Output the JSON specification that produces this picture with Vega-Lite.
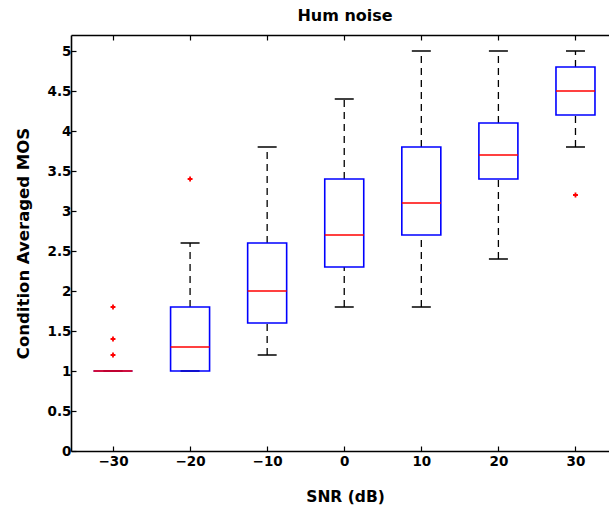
{
  "$schema": "https://vega.github.io/schema/vega-lite/v6.json",
  "width": 538,
  "height": 416,
  "autosize": {"type": "none"},
  "padding": {"left": 71, "top": 35, "right": 0, "bottom": 65},
  "background": "white",
  "config": {
    "view": {"stroke": null},
    "font": "DejaVu Sans",
    "axis": {
      "domainColor": "black",
      "domainWidth": 1.6,
      "tickColor": "black",
      "tickWidth": 1.2,
      "tickSize": -5,
      "grid": false,
      "labelFont": "DejaVu Sans",
      "labelFontSize": 13.5,
      "labelFontWeight": "bold",
      "labelColor": "black",
      "titleFont": "DejaVu Sans",
      "titleFontSize": 15.5,
      "titleFontWeight": "bold",
      "titleColor": "black"
    }
  },
  "title": {
    "text": "Hum noise",
    "font": "DejaVu Sans",
    "fontSize": 16,
    "fontWeight": "bold",
    "color": "black",
    "anchor": "middle",
    "frame": "group",
    "baseline": "alphabetic",
    "offset": -3,
    "dx": 5
  },
  "datasets": {
    "boxes": [
      {"snr": -30, "lo": 1.0, "q1": 1.0, "med": 1.0, "q3": 1.0, "hi": 1.0},
      {"snr": -20, "lo": 1.0, "q1": 1.0, "med": 1.3, "q3": 1.8, "hi": 2.6},
      {"snr": -10, "lo": 1.2, "q1": 1.6, "med": 2.0, "q3": 2.6, "hi": 3.8},
      {"snr": 0, "lo": 1.8, "q1": 2.3, "med": 2.7, "q3": 3.4, "hi": 4.4},
      {"snr": 10, "lo": 1.8, "q1": 2.7, "med": 3.1, "q3": 3.8, "hi": 5.0},
      {"snr": 20, "lo": 2.4, "q1": 3.4, "med": 3.7, "q3": 4.1, "hi": 5.0},
      {"snr": 30, "lo": 3.8, "q1": 4.2, "med": 4.5, "q3": 4.8, "hi": 5.0}
    ],
    "outliers": [
      {"snr": -30, "mos": 1.2},
      {"snr": -30, "mos": 1.4},
      {"snr": -30, "mos": 1.8},
      {"snr": -20, "mos": 3.4},
      {"snr": 30, "mos": 3.2}
    ]
  },
  "resolve": {"axis": {"x": "independent", "y": "independent"}},
  "layer": [
    {
      "data": {"name": "boxes"},
      "mark": {"type": "rule", "color": "black", "strokeWidth": 1.3, "strokeDash": [7, 5]},
      "encoding": {
        "x": {
          "field": "snr", "type": "quantitative",
          "scale": {"domain": [-34.8, 33.7], "nice": false, "zero": false},
          "axis": {
            "orient": "bottom",
            "values": [-30, -20, -10, 0, 10, 20, 30],
            "format": "d",
            "labelPadding": 8,
            "title": "SNR (dB)",
            "titleX": 274,
            "titleY": 38,
            "titleBaseline": "top"
          }
        },
        "y": {
          "field": "q3", "type": "quantitative",
          "scale": {"domain": [0, 5.2], "nice": false, "zero": false},
          "axis": {
            "orient": "left",
            "values": [0, 0.5, 1, 1.5, 2, 2.5, 3, 3.5, 4, 4.5, 5],
            "format": "~r",
            "labelPadding": 5,
            "title": "Condition Averaged MOS",
            "titleFontSize": 16.5,
            "titleX": -40,
            "titleY": 208
          }
        },
        "y2": {"field": "hi"}
      }
    },
    {
      "data": {"name": "boxes"},
      "mark": {"type": "rule", "color": "black", "strokeWidth": 1.3, "strokeDash": [7, 5]},
      "encoding": {
        "x": {
          "field": "snr", "type": "quantitative",
          "axis": {
            "orient": "top",
            "values": [-30, -20, -10, 0, 10, 20, 30],
            "labels": false,
            "title": null
          }
        },
        "y": {"field": "lo", "type": "quantitative", "axis": null},
        "y2": {"field": "q1"}
      }
    },
    {
      "data": {"name": "boxes"},
      "mark": {"type": "tick", "orient": "horizontal", "color": "black", "opacity": 1, "size": 19, "thickness": 1.5},
      "encoding": {
        "x": {"field": "snr", "type": "quantitative", "axis": null},
        "y": {"field": "hi", "type": "quantitative", "axis": null}
      }
    },
    {
      "data": {"name": "boxes"},
      "mark": {"type": "tick", "orient": "horizontal", "color": "black", "opacity": 1, "size": 19, "thickness": 1.5},
      "encoding": {
        "x": {"field": "snr", "type": "quantitative", "axis": null},
        "y": {"field": "lo", "type": "quantitative", "axis": null}
      }
    },
    {
      "data": {"name": "boxes"},
      "mark": {"type": "bar", "filled": false, "color": "#0000ff", "opacity": 1, "strokeWidth": 1.6, "size": 39},
      "encoding": {
        "x": {"field": "snr", "type": "quantitative", "axis": null},
        "y": {"field": "q1", "type": "quantitative", "axis": null},
        "y2": {"field": "q3"}
      }
    },
    {
      "data": {"name": "boxes"},
      "mark": {"type": "tick", "orient": "horizontal", "color": "#ff0000", "opacity": 1, "size": 39, "thickness": 1.5},
      "encoding": {
        "x": {"field": "snr", "type": "quantitative", "axis": null},
        "y": {"field": "med", "type": "quantitative", "axis": null}
      }
    },
    {
      "data": {"name": "outliers"},
      "mark": {"type": "point", "shape": "M-1,0L1,0M0,-1L0,1", "filled": false, "color": "#ff0000", "strokeWidth": 1.8, "size": 24, "opacity": 1},
      "encoding": {
        "x": {"field": "snr", "type": "quantitative", "axis": null},
        "y": {"field": "mos", "type": "quantitative", "axis": null}
      }
    }
  ]
}
